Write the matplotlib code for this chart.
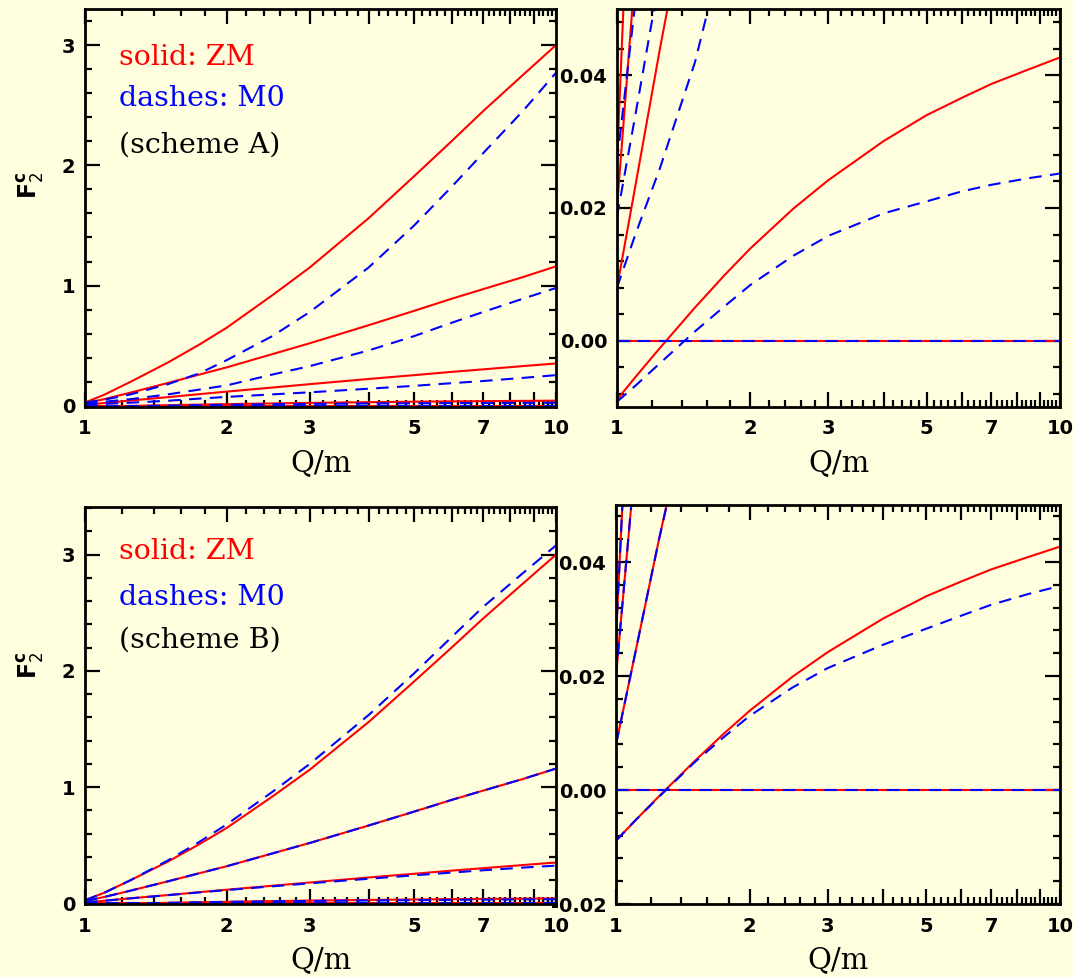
import numpy as np
import matplotlib
matplotlib.use("Agg")
import matplotlib.pyplot as plt
from matplotlib.ticker import FixedLocator, FuncFormatter

# ---------------- data ----------------
q = [1.0, 1.1, 1.25, 1.5, 1.75, 2.0, 2.5, 3.0, 4.0, 5.0, 6.0, 7.0, 8.5, 10.0]

# ZM (solid red) - same in both schemes
zm1 = [0.027, 0.093, 0.20, 0.36, 0.51, 0.65, 0.92, 1.15, 1.56, 1.91, 2.20, 2.45, 2.75, 3.00]
zm2 = [0.020, 0.056, 0.11, 0.19, 0.26, 0.32, 0.43, 0.52, 0.67, 0.79, 0.89, 0.97, 1.07, 1.16]
zm3 = [0.008, 0.0233, 0.044, 0.072, 0.097, 0.118, 0.152, 0.180, 0.223, 0.255, 0.282, 0.303, 0.330, 0.352]
zm4 = [-0.0089, -0.0055, -0.0011, 0.0050, 0.0099, 0.0139, 0.0199, 0.0242, 0.0301, 0.0340, 0.0366, 0.0387, 0.0409, 0.0427]
zm5 = [0.0] * 14

# M0 scheme A (dashed blue)
a1 = [0.027, 0.051, 0.095, 0.18, 0.27, 0.38, 0.58, 0.78, 1.15, 1.50, 1.82, 2.10, 2.45, 2.77]
a2 = [0.0187, 0.034, 0.055, 0.095, 0.135, 0.17, 0.26, 0.33, 0.46, 0.58, 0.69, 0.78, 0.89, 0.98]
a3 = [0.008, 0.016, 0.026, 0.042, 0.060, 0.074, 0.095, 0.112, 0.142, 0.166, 0.188, 0.206, 0.232, 0.255]
a4 = [-0.0092, -0.0068, -0.0034, 0.0014, 0.0052, 0.0084, 0.0128, 0.0158, 0.0192, 0.0210, 0.0225, 0.0235, 0.0245, 0.0252]
a5 = [0.0] * 14

# M0 scheme B (dashed blue)
b1 = [0.027, 0.093, 0.20, 0.37, 0.53, 0.68, 0.96, 1.20, 1.62, 1.98, 2.29, 2.55, 2.84, 3.08]
b2 = [0.020, 0.056, 0.11, 0.19, 0.26, 0.32, 0.43, 0.52, 0.67, 0.79, 0.89, 0.97, 1.07, 1.16]
b3 = [0.008, 0.0233, 0.044, 0.071, 0.095, 0.115, 0.147, 0.173, 0.212, 0.242, 0.265, 0.285, 0.308, 0.325]
b4 = [-0.0089, -0.0055, -0.0012, 0.0048, 0.0093, 0.0130, 0.0180, 0.0214, 0.0255, 0.0283, 0.0306, 0.0325, 0.0344, 0.0358]
b5 = [0.0] * 14

zm_curves = [zm1, zm2, zm3, zm4, zm5]
schemeA = [a1, a2, a3, a4, a5]
schemeB = [b1, b2, b3, b4, b5]

x_major = [1, 2, 3, 4, 5, 6, 7, 8, 9, 10]
x_labels = {1: "1", 2: "2", 3: "3", 5: "5", 7: "7", 10: "10"}

BG = "#FFFFE0"
RED = "#FF0000"
BLUE = "#0000FF"

plt.rcParams["font.family"] = ["DejaVu Sans"]
plt.rcParams["mathtext.fontset"] = "dejavusans"

W, H = 1073, 977
fig = plt.figure(figsize=(W / 100, H / 100), dpi=100, facecolor=BG)


def add_ax(l, t, r, b):
    return fig.add_axes([l / W, 1 - b / H, (r - l) / W, (b - t) / H], facecolor=BG)


def style(ax, ylim, ymajor, yminor, yfmt):
    ax.set_xscale("log")
    ax.set_xlim(1, 10)
    ax.set_ylim(*ylim)
    ax.xaxis.set_major_locator(FixedLocator(x_major))
    xminor = [v for v in np.round(np.arange(1.0, 10.001, 0.2), 3) if abs(v - round(v)) > 1e-6]
    ax.xaxis.set_minor_locator(FixedLocator(xminor))
    ax.xaxis.set_major_formatter(FuncFormatter(lambda v, p: x_labels.get(int(round(v)), "")))
    ax.xaxis.set_minor_formatter(FuncFormatter(lambda v, p: ""))
    ax.yaxis.set_major_locator(FixedLocator(ymajor))
    ax.yaxis.set_minor_locator(FixedLocator(yminor))
    ax.yaxis.set_major_formatter(FuncFormatter(yfmt))
    ax.tick_params(which="both", direction="in", top=True, right=True, width=1.6,
                   colors="black", labelsize=14)
    ax.tick_params(which="major", length=11)
    ax.tick_params(axis="x", which="major", pad=9)
    ax.tick_params(axis="y", which="major", pad=7)
    ax.tick_params(which="minor", length=5)
    for lab in ax.get_xticklabels() + ax.get_yticklabels():
        lab.set_fontweight("bold")
    for s in ax.spines.values():
        s.set_linewidth(2.0)
    ax.set_xlabel("Q/m", family="DejaVu Serif", fontsize=21, labelpad=8)


def draw(ax, blues):
    for c in zm_curves:
        ax.plot(q, c, color=RED, lw=1.5, solid_capstyle="butt")
    for c in blues:
        ax.plot(q, c, color=BLUE, lw=1.5, dashes=(6, 4))


fmt_int = lambda v, p: "%d" % round(v)
fmt_2 = lambda v, p: ("%.2f" % v).replace("-0.00", "0.00")

# top-left
ax1 = add_ax(85, 9, 556, 407)
draw(ax1, schemeA)
style(ax1, (-0.01, 3.3), [0, 1, 2, 3], list(np.round(np.arange(0.2, 3.3, 0.2), 2)), fmt_int)

# top-right
ax2 = add_ax(617, 9, 1060, 407)
draw(ax2, schemeA)
style(ax2, (-0.01, 0.05), [0.0, 0.02, 0.04], list(np.round(np.arange(-0.008, 0.0501, 0.004), 4)), fmt_2)

# bottom-left
ax3 = add_ax(85, 507, 556, 904)
draw(ax3, schemeB)
style(ax3, (-0.005, 3.41), [0, 1, 2, 3], list(np.round(np.arange(0.2, 3.41, 0.2), 2)), fmt_int)

# bottom-right
ax4 = add_ax(616, 505, 1060, 904)
draw(ax4, schemeB)
style(ax4, (-0.02, 0.05), [-0.02, 0.0, 0.02, 0.04], list(np.round(np.arange(-0.02, 0.0501, 0.004), 4)), fmt_2)

# labels inside left panels
for ax, scheme, ys in ((ax1, "(scheme A)", (0.879, 0.774, 0.658)),
                       (ax3, "(scheme B)", (0.887, 0.773, 0.665))):
    ax.text(0.073, ys[0], "solid: ZM", transform=ax.transAxes, color=RED,
            family="DejaVu Serif", fontsize=20.5, va="center")
    ax.text(0.073, ys[1], "dashes: M0", transform=ax.transAxes, color=BLUE,
            family="DejaVu Serif", fontsize=20.5, va="center")
    ax.text(0.073, ys[2], scheme, transform=ax.transAxes, color="black",
            family="DejaVu Serif", fontsize=20.5, va="center")

fig.text(30 / W, 1 - 185 / H, r"$\mathbf{F}_2^{\mathbf{c}}$", rotation=90, fontsize=17,
         ha="center", va="center")
fig.text(30 / W, 1 - 665 / H, r"$\mathbf{F}_2^{\mathbf{c}}$", rotation=90, fontsize=17,
         ha="center", va="center")

fig.savefig("out.png", dpi=100, facecolor=BG)
